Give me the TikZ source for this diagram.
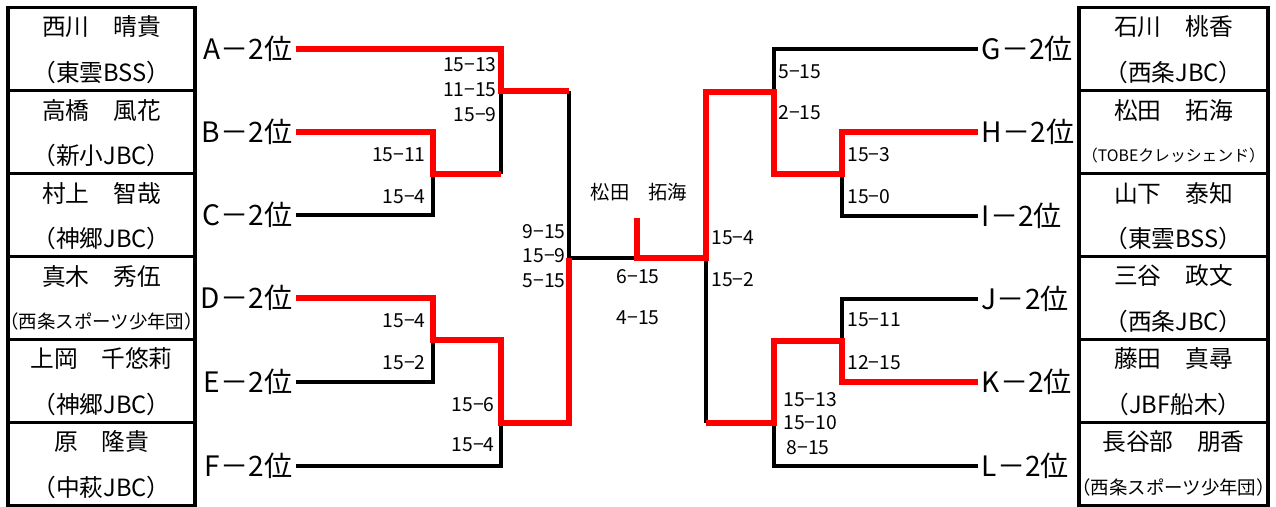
\documentclass[tikz,border=0pt]{standalone}
\usepackage{fontspec}
\newfontfamily\jp{Noto Sans CJK JP}
\usetikzlibrary{positioning,calc}
\definecolor{winred}{RGB}{255,0,0}

\begin{document}
\begin{tikzpicture}[
    x=0.02cm, y=-0.02cm,
    pbox/.style={rectangle, draw, line width=1.9pt, minimum width=3.74cm, minimum height=1.66cm, inner sep=0},
    rbox/.style={pbox, minimum width=3.78cm},
    pname/.style={font=\jp\fontsize{13.5}{16}\selectfont, inner sep=0},
    steam/.style={font=\jp\fontsize{10.5}{12}\selectfont, inner sep=0},
    tteam/.style={font=\jp\fontsize{9}{11}\selectfont, inner sep=0},
    slot/.style={font=\jp\fontsize{16}{19}\selectfont, inner sep=2pt},
    score/.style={font=\jp\fontsize{11}{13}\selectfont, inner sep=0},
    lose/.style={draw=black, line width=1.9pt},
    win/.style={draw=winred, line width=3pt, line join=miter}
]
    \useasboundingbox (0,0) rectangle (1276,507);

    % Left players
    \node[pbox] (p1) at (101.5,49) {};
    \node[pname] (p1n) at ($(p1.center)+(0,-22)$) {西川　晴貴};
    \node[pname] (p1t) at ($(p1.center)+(0,23)$) {（東雲BSS）};
    \node[pbox] (p2) at (101.5,132) {};
    \node[pname] (p2n) at ($(p2.center)+(0,-22)$) {高橋　風花};
    \node[pname] (p2t) at ($(p2.center)+(0,23)$) {（新小JBC）};
    \node[pbox] (p3) at (101.5,215) {};
    \node[pname] (p3n) at ($(p3.center)+(0,-22)$) {村上　智哉};
    \node[pname] (p3t) at ($(p3.center)+(0,23)$) {（神郷JBC）};
    \node[pbox] (p4) at (101.5,298) {};
    \node[pname] (p4n) at ($(p4.center)+(0,-22)$) {真木　秀伍};
    \node[steam] (p4t) at ($(p4.center)+(0,23)$) {（西条スポーツ少年団）};
    \node[pbox] (p5) at (101.5,381) {};
    \node[pname] (p5n) at ($(p5.center)+(0,-22)$) {上岡　千悠莉};
    \node[pname] (p5t) at ($(p5.center)+(0,23)$) {（神郷JBC）};
    \node[pbox] (p6) at (101.5,464) {};
    \node[pname] (p6n) at ($(p6.center)+(0,-22)$) {原　隆貴};
    \node[pname] (p6t) at ($(p6.center)+(0,23)$) {（中萩JBC）};

    % Right players
    \node[rbox] (q1) at (1173.5,49) {};
    \node[pname] (q1n) at ($(q1.center)+(0,-22)$) {石川　桃香};
    \node[pname] (q1t) at ($(q1.center)+(0,23)$) {（西条JBC）};
    \node[rbox] (q2) at (1173.5,132) {};
    \node[pname] (q2n) at ($(q2.center)+(0,-22)$) {松田　拓海};
    \node[tteam] (q2t) at ($(q2.center)+(0,23)$) {（TOBEクレッシェンド）};
    \node[rbox] (q3) at (1173.5,215) {};
    \node[pname] (q3n) at ($(q3.center)+(0,-22)$) {山下　泰知};
    \node[pname] (q3t) at ($(q3.center)+(0,23)$) {（東雲BSS）};
    \node[rbox] (q4) at (1173.5,298) {};
    \node[pname] (q4n) at ($(q4.center)+(0,-22)$) {三谷　政文};
    \node[pname] (q4t) at ($(q4.center)+(0,23)$) {（西条JBC）};
    \node[rbox] (q5) at (1173.5,381) {};
    \node[pname] (q5n) at ($(q5.center)+(0,-22)$) {藤田　真尋};
    \node[pname] (q5t) at ($(q5.center)+(0,23)$) {（JBF船木）};
    \node[rbox] (q6) at (1173.5,464) {};
    \node[pname] (q6n) at ($(q6.center)+(0,-22)$) {長谷部　朋香};
    \node[steam] (q6t) at ($(q6.center)+(0,23)$) {（西条スポーツ少年団）};

    % Slots
    \node[slot, anchor=east] (la) at (296,49) {A－2位};
    \node[slot, anchor=east] (lb) at (296,132) {B－2位};
    \node[slot, anchor=east] (lc) at (296,215) {C－2位};
    \node[slot, anchor=east] (ld) at (296,298) {D－2位};
    \node[slot, anchor=east] (le) at (296,382) {E－2位};
    \node[slot, anchor=east] (lf) at (296,466) {F－2位};
    \node[slot, anchor=west] (lg) at (978,49) {G－2位};
    \node[slot, anchor=west] (lh) at (978,132) {H－2位};
    \node[slot, anchor=west] (li) at (978,216) {I－2位};
    \node[slot, anchor=west] (lj) at (978,299) {J－2位};
    \node[slot, anchor=west] (lk) at (978,382) {K－2位};
    \node[slot, anchor=west] (ll) at (978,466) {L－2位};

    % Joins
    \coordinate (lbc) at (433,174);
    \coordinate (lde) at (433,340);
    \coordinate (labc) at (501,91);
    \coordinate (ldef) at (501,423);
    \coordinate (lsf) at (569,258);
    \coordinate (fin) at (637,258);
    \coordinate (champ) at (637,218);
    \coordinate (rhi) at (842,174);
    \coordinate (rjk) at (842,341);
    \coordinate (rghi) at (774,92);
    \coordinate (rjkl) at (774,423);
    \coordinate (rsf) at (706,258);

    % Lost lines
    \draw[lose] (lc.east) -| (lbc);
    \draw[lose] (lbc -| labc) -- (labc);
    \draw[lose] (labc -| lsf) -- (lsf);
    \draw[lose] (le.east) -| (lde);
    \draw[lose] (lf.east) -| (ldef);
    \draw[lose] (lsf) -- (fin);
    \draw[lose] (lg.west) -| (rghi);
    \draw[lose] (li.west) -| (rhi);
    \draw[lose] (lj.west) -| (rjk);
    \draw[lose] (ll.west) -| (rjkl);
    \draw[lose] (rjkl -| rsf) -- (rsf);

    % Winner lines
    \draw[win] (la.east) -| (labc) -- (labc -| lsf);
    \draw[win] (lb.east) -| (lbc) -- (lbc -| labc);
    \draw[win] (ld.east) -| (lde) -| (ldef) -| (lsf);
    \draw[win] (lk.west) -| (rjk) -| (rjkl) -- (rjkl -| rsf);
    \draw[win] (lh.west) -| (rhi) -| (rghi) -| (rsf) -| (champ);

    % Champion
    \node[score] (cn) at (639,192) {松田　拓海};

    % Scores left
    \node[score, anchor=east] (s1) at (497,65) {15−13};
    \node[score, anchor=east] (s2) at (497,90) {11−15};
    \node[score, anchor=east] (s3) at (497,115) {15−9};
    \node[score, anchor=east] (s4) at (426,155) {15−11};
    \node[score, anchor=east] (s5) at (426,197) {15−4};
    \node[score, anchor=east] (s6) at (566,232) {9−15};
    \node[score, anchor=east] (s7) at (566,256) {15−9};
    \node[score, anchor=east] (s8) at (566,281) {5−15};
    \node[score, anchor=east] (s9) at (426,321) {15−4};
    \node[score, anchor=east] (s10) at (426,363) {15−2};
    \node[score, anchor=east] (s11) at (495,405) {15−6};
    \node[score, anchor=east] (s12) at (495,445) {15−4};
    % Scores final
    \node[score] (s13) at (638,277) {6−15};
    \node[score] (s14) at (638,318) {4−15};
    % Scores right
    \node[score, anchor=west] (s15) at (778,72) {5−15};
    \node[score, anchor=west] (s16) at (778,113) {2−15};
    \node[score, anchor=west] (s17) at (847,155) {15−3};
    \node[score, anchor=west] (s18) at (847,197) {15−0};
    \node[score, anchor=west] (s19) at (711,238) {15−4};
    \node[score, anchor=west] (s20) at (711,280) {15−2};
    \node[score, anchor=west] (s21) at (847,320) {15−11};
    \node[score, anchor=west] (s22) at (847,363) {12−15};
    \node[score, anchor=west] (s23) at (783,400) {15−13};
    \node[score, anchor=west] (s24) at (783,423) {15−10};
    \node[score] (s25) at (808,448) {8−15};
\end{tikzpicture}
\end{document}
